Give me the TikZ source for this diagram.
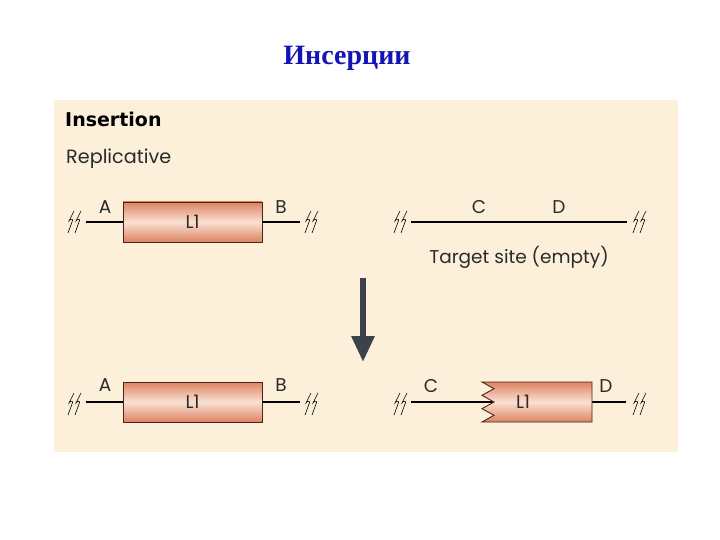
\documentclass[tikz,border=0pt]{standalone}
\usepackage{fontspec}
\usetikzlibrary{arrows.meta}
\setmainfont{Liberation Serif}
\newfontfamily\labfont{Poppins}
\newfontfamily\headfont{DejaVu Sans}
\definecolor{panel}{HTML}{FCF0DA}
\definecolor{titleblue}{HTML}{1414B4}
\definecolor{boxdark}{HTML}{DC8462}
\definecolor{boxlight}{HTML}{FAE0D2}
\definecolor{boxedge}{HTML}{4A2418}
\definecolor{arrowgray}{HTML}{3C414C}
\definecolor{labgray}{HTML}{2A2A2A}
\tikzset{
  elem/.style={draw=boxedge, line width=0.9pt, top color=boxdark, bottom color=boxdark, middle color=boxlight, minimum width=139pt, minimum height=40pt, inner sep=0pt, font=\labfont\fontsize{18.5}{20}\selectfont, text=labgray},
  lab/.style={font=\labfont\fontsize{18.5}{20}\selectfont, text=labgray, inner sep=0pt},
  dna/.style={line width=1.6pt, black},
  squig/.pic={
    \draw[line width=0.6pt] (0,-11) -- (-5,-1) .. controls (-3,-4) and (0,-3) .. (-2,0) -- (-6,11);
    \draw[line width=0.6pt] (7,-11) -- (2,-1) .. controls (4,-4) and (7,-3) .. (5,0) -- (1,11);
  }
}
\begin{document}
\begin{tikzpicture}[x=1pt,y=-1pt]
\useasboundingbox (0,0) rectangle (720,540);
\fill[panel] (54,100) rectangle (678,452);
\node[font=\bfseries\fontsize{28}{30}\selectfont, text=titleblue] (title) at (347,58) {Инсерции};
\node[anchor=west, font=\headfont\bfseries\fontsize{19}{21}\selectfont, inner sep=0pt] (ins) at (65,119) {Insertion};
\node[anchor=west, lab, font=\labfont\fontsize{19.2}{21}\selectfont] (rep) at (66,159) {Replicative};

% top left
\node[elem] (L1a) at (192.5,222) {L1};
\coordinate (sa1) at (86,222);
\coordinate (sa2) at (300,222);
\draw[dna] (sa1) -- (L1a.west);
\draw[dna] (L1a.east) -- (sa2);
\pic at (74,222) {squig};
\pic at (311,222) {squig};
\node[lab] (Aa) at (105,207) {A};
\node[lab] (Ba) at (281,207) {B};

% top right
\coordinate (t1) at (411,222);
\coordinate (t2) at (627,222);
\draw[dna] (t1) -- (t2);
\pic at (400,222) {squig};
\pic at (639,222) {squig};
\node[lab] (Ct) at (479,207) {C};
\node[lab] (Dt) at (559,207) {D};
\node[lab] (tgt) at (519,257) {Target site (empty)};

% arrow
\coordinate (ar1) at (363,278);
\coordinate (ar2) at (363,362);
\draw[arrowgray, line width=6pt, -{Triangle[width=22pt,length=26pt]}] (ar1) -- (ar2);

% bottom left
\node[elem] (L1b) at (192.5,402) {L1};
\coordinate (sb1) at (86,402);
\coordinate (sb2) at (300,402);
\draw[dna] (sb1) -- (L1b.west);
\draw[dna] (L1b.east) -- (sb2);
\pic at (74,404) {squig};
\pic at (311,404) {squig};
\node[lab] (Ab) at (105,385) {A};
\node[lab] (Bb) at (281,385) {B};

% bottom right
\coordinate (sc1) at (411,402);
\coordinate (sc2) at (494,402);
\coordinate (sd1) at (592,402);
\coordinate (sd2) at (626,402);
\draw[dna] (sc1) -- (sc2);
\draw[dna] (sd1) -- (sd2);
\path[draw=boxedge, line width=0.9pt, top color=boxdark, bottom color=boxdark, middle color=boxlight]
  (482,382) -- (592,382) -- (592,422) -- (482,422) -- (494,415.3) -- (482,408.7) -- (494,402) -- (482,395.3) -- (494,388.7) -- cycle;
\node[lab] (L1c) at (523,402) {L1};
\pic at (400,404) {squig};
\pic at (639,404) {squig};
\node[lab] (Cb) at (431,386) {C};
\node[lab] (Db) at (606,386) {D};
\end{tikzpicture}
\end{document}
